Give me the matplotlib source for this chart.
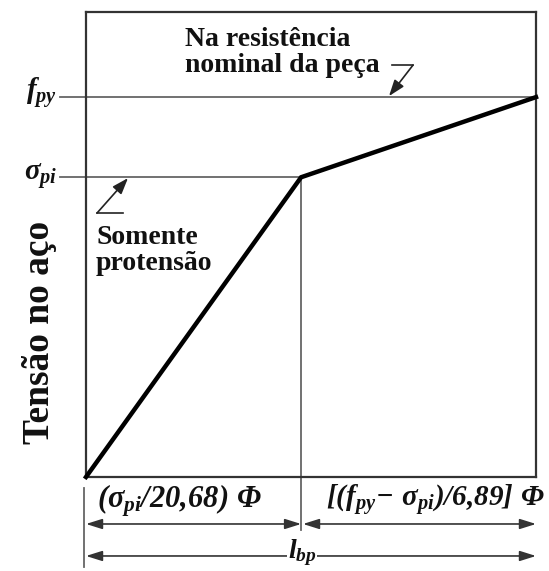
import matplotlib.pyplot as plt

plt.rcParams['mathtext.fontset'] = 'custom'
plt.rcParams['mathtext.it'] = 'Liberation Serif:italic:bold'
plt.rcParams['mathtext.rm'] = 'Liberation Serif:italic:bold'
plt.rcParams['mathtext.bf'] = 'Liberation Serif:italic:bold'

# curve: stress in the strand along the bond length (normalised)
x_pts = [0.0, 0.478, 1.0]          # 0, sigma_pi/20.68 phi, l_bp
y_pts = [0.0, 0.789, 1.0]          # 0, sigma_pi, f_py
x_knee = x_pts[1]
sigma_pi = y_pts[1]
f_py = y_pts[2]
y_top = 1.224

y_label = 'Tensão no aço'
note_top = 'Na resistência\nnominal da peça'
note_low = 'Somente\nprotensão'
lab_fpy = r'$f_{py}$'
lab_spi = r'$\sigma_{pi}$'
dim_left = r'$(\sigma_{pi}/20{,}68)\ \Phi$'
dim_right = r'$[(f_{py}\!-\,\sigma_{pi})/6{,}89]\ \Phi$'
dim_total = r'$l_{bp}$'

W, H = 549, 571
fig = plt.figure(figsize=(W / 100, H / 100), dpi=100)
ax = fig.add_axes([86 / W, 1 - 477 / H, 450 / W, 465 / H])
ax.set_xlim(0, 1)
ax.set_ylim(0, y_top)
ax.set_xticks([])
ax.set_yticks([])
for s in ax.spines.values():
    s.set_color('#333333')
    s.set_linewidth(1.6)

def px(x):
    return (x - 86) / 450.0

def py(y):
    return (477 - y) / 380.0

grey = '#666666'
txt = '#111111'
serif = 'Liberation Serif'

# main curve
ax.plot(x_pts, y_pts, color='black', lw=3.2, solid_joinstyle='miter', clip_on=False, zorder=5)

# reference lines
ax.plot([px(60), 1.0], [f_py, f_py], color=grey, lw=1.3, clip_on=False)
ax.plot([px(60), x_knee], [sigma_pi, sigma_pi], color=grey, lw=1.3, clip_on=False)
ax.plot([x_knee, x_knee], [sigma_pi, py(530)], color=grey, lw=1.3, clip_on=False)
ax.plot([px(84), px(84)], [py(488), py(567)], color=grey, lw=1.3, clip_on=False)

# dimension arrows
arw = dict(arrowstyle='<|-|>,head_length=0.7,head_width=0.22', color='#333333',
           lw=1.2, shrinkA=0, shrinkB=0, mutation_scale=14)
y1 = py(524)
y2 = py(556)
ax.annotate('', xy=(0.0, y1), xytext=(x_knee, y1), arrowprops=arw, annotation_clip=False)
ax.annotate('', xy=(px(303), y1), xytext=(1.0, y1), arrowprops=arw, annotation_clip=False)
ax.annotate('', xy=(0.0, y2), xytext=(1.0, y2), arrowprops=arw, annotation_clip=False)

# leaders
lead = dict(arrowstyle='-|>,head_length=0.7,head_width=0.25', color='#222222',
            lw=1.2, shrinkA=0, shrinkB=0, mutation_scale=14)
ax.plot([px(392), px(413)], [py(65), py(65)], color='#222222', lw=1.2, clip_on=False)
ax.annotate('', xy=(px(389), py(96)), xytext=(px(413), py(65)), arrowprops=lead,
            annotation_clip=False)
ax.plot([px(97), px(123)], [py(213), py(213)], color='#222222', lw=1.2, clip_on=False)
ax.annotate('', xy=(px(128), py(178)), xytext=(px(97), py(213)), arrowprops=lead,
            annotation_clip=False)

# texts
ax.text(px(185), py(27), note_top, family=serif, weight='bold', fontsize=20,
        color=txt, ha='left', va='top', linespacing=1.05)
ax.text(px(96), py(225), note_low, family=serif, weight='bold', fontsize=20,
        color=txt, ha='left', va='top', linespacing=1.05)
ax.text(px(40), py(332), y_label, family=serif, weight='bold', fontsize=27,
        color=txt, ha='center', va='center', rotation=90, clip_on=False)
ax.text(px(57), py(93), lab_fpy, fontsize=21, color=txt, ha='right', va='center')
ax.text(px(57), py(176), lab_spi, fontsize=21, color=txt, ha='right', va='center')
ax.text(px(97), py(501), dim_left, fontsize=22, color=txt, ha='left', va='center')
ax.text(px(545), py(501), dim_right, fontsize=21, color=txt, ha='right', va='center')
ax.text(px(302), py(553), dim_total, fontsize=20, color=txt, ha='center', va='center',
        bbox=dict(facecolor='white', edgecolor='none', pad=0.5))

fig.savefig('out.png', dpi=100)
